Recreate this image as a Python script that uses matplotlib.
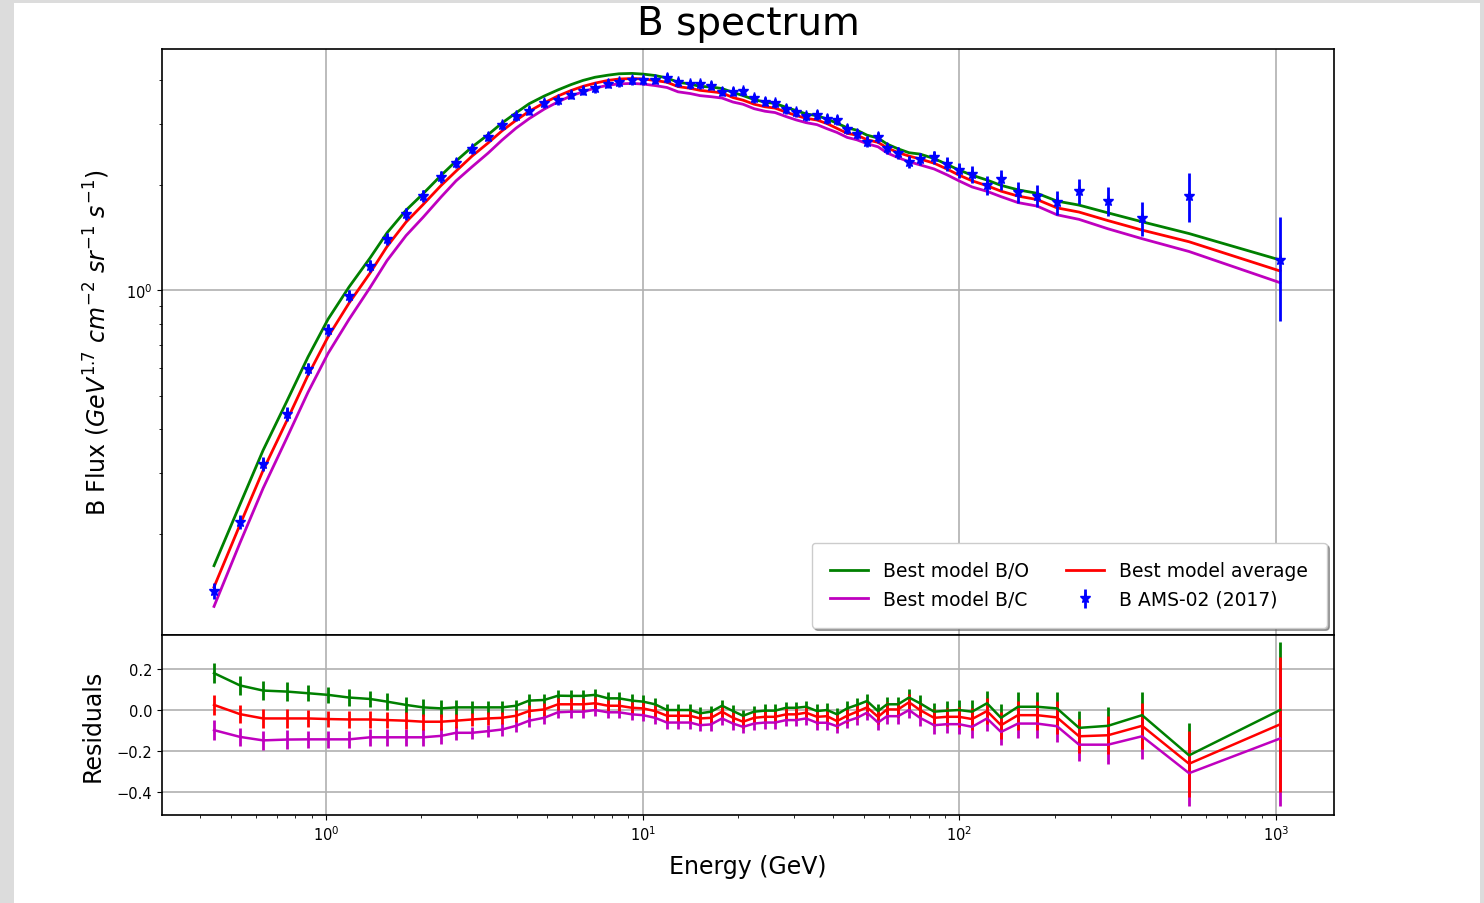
import matplotlib
matplotlib.use("Agg")
import matplotlib.pyplot as plt
from matplotlib.patches import Rectangle
import numpy as np

# kinetic energy per nucleon (GeV)
energy = [0.443, 0.535, 0.633, 0.753, 0.877, 1.015, 1.182, 1.377, 1.558, 1.789,
          2.025, 2.307, 2.574, 2.891, 3.248, 3.595, 3.981, 4.375, 4.880, 5.403,
          5.938, 6.479, 7.070, 7.771, 8.420, 9.252, 10.02, 10.94, 11.93, 12.93,
          14.11, 15.17, 16.43, 17.80, 19.28, 20.74, 22.46, 24.33, 26.17, 28.35,
          30.49, 32.79, 35.51, 38.19, 41.07, 44.18, 47.50, 51.08, 55.34, 59.08,
          64.00, 69.33, 75.08, 83.15, 91.37, 99.7, 109.6, 122.2, 135.3, 153.1,
          175.8, 203.3, 238.6, 294.5, 377.3, 530.9, 1028.7]

# AMS-02 B flux x E^1.7
flux = [0.1379, 0.2176, 0.3183, 0.4426, 0.5957, 0.7705, 0.9643, 1.1754, 1.4047, 1.6565,
        1.869, 2.119, 2.319, 2.544, 2.759, 2.980, 3.162, 3.276, 3.437, 3.511,
        3.639, 3.741, 3.802, 3.917, 3.953, 4.004, 4.005, 4.018, 4.064, 3.950,
        3.906, 3.906, 3.862, 3.712, 3.712, 3.722, 3.554, 3.475, 3.445, 3.313,
        3.241, 3.156, 3.184, 3.100, 3.080, 2.903, 2.808, 2.669, 2.748, 2.556,
        2.477, 2.339, 2.381, 2.408, 2.304, 2.214, 2.157, 2.006, 2.080, 1.912,
        1.869, 1.789, 1.924, 1.808, 1.614, 1.869, 1.223]

# relative errors of the data
rel_err = [0.05, 0.045, 0.045, 0.045, 0.04, 0.04, 0.04, 0.04, 0.04, 0.04,
           0.04, 0.04, 0.035, 0.03, 0.03, 0.03, 0.03, 0.03, 0.03, 0.03,
           0.03, 0.03, 0.03, 0.03, 0.03, 0.03, 0.03, 0.03, 0.03, 0.03,
           0.03, 0.03, 0.03, 0.03, 0.03, 0.03, 0.03, 0.03, 0.03, 0.03,
           0.03, 0.03, 0.033, 0.033, 0.033, 0.035, 0.035, 0.035, 0.035, 0.038,
           0.038, 0.04, 0.041, 0.041, 0.045, 0.05, 0.055, 0.062, 0.065, 0.07,
           0.07, 0.079, 0.082, 0.093, 0.111, 0.16, 0.33]

# residuals (model - data) / data
res_BO = [0.180, 0.120, 0.095, 0.090, 0.082, 0.074, 0.061, 0.054, 0.041, 0.025,
          0.013, 0.008, 0.013, 0.013, 0.013, 0.013, 0.021, 0.046, 0.049, 0.070,
          0.069, 0.069, 0.074, 0.057, 0.057, 0.046, 0.041, 0.028, 0.000, 0.000,
          0.000, -0.016, -0.008, 0.021, -0.005, -0.028, -0.008, -0.003, -0.003, 0.011,
          0.011, 0.016, -0.005, 0.000, -0.021, 0.008, 0.025, 0.044, -0.005, 0.028,
          0.028, 0.061, 0.033, -0.008, -0.003, 0.000, -0.008, 0.033, -0.038, 0.016,
          0.016, 0.008, -0.087, -0.077, -0.025, -0.221, 0.000]
res_avg = [0.025, -0.020, -0.041, -0.041, -0.041, -0.044, -0.046, -0.046, -0.049, -0.052,
           -0.057, -0.057, -0.052, -0.046, -0.041, -0.038, -0.028, -0.005, 0.003, 0.028,
           0.028, 0.028, 0.033, 0.021, 0.021, 0.011, 0.008, -0.005, -0.028, -0.028,
           -0.028, -0.041, -0.038, -0.008, -0.038, -0.057, -0.038, -0.033, -0.033, -0.021,
           -0.021, -0.013, -0.033, -0.030, -0.054, -0.028, -0.008, 0.013, -0.033, 0.003,
           0.003, 0.038, 0.000, -0.038, -0.033, -0.033, -0.044, -0.005, -0.074, -0.025,
           -0.025, -0.036, -0.128, -0.123, -0.077, -0.262, -0.070]
res_BC = [-0.098, -0.131, -0.148, -0.144, -0.143, -0.143, -0.143, -0.133, -0.133, -0.133,
          -0.133, -0.126, -0.111, -0.111, -0.103, -0.095, -0.077, -0.052, -0.038, -0.011,
          -0.008, -0.008, 0.000, -0.011, -0.011, -0.021, -0.025, -0.038, -0.061, -0.061,
          -0.061, -0.074, -0.070, -0.041, -0.066, -0.082, -0.066, -0.061, -0.061, -0.049,
          -0.049, -0.041, -0.062, -0.062, -0.079, -0.054, -0.038, -0.013, -0.061, -0.030,
          -0.030, 0.000, -0.038, -0.074, -0.069, -0.069, -0.082, -0.041, -0.107, -0.066,
          -0.066, -0.079, -0.169, -0.169, -0.128, -0.308, -0.139]

E = np.array(energy)
F = np.array(flux)
rel = np.array(rel_err)
flux_err = F * rel
model_BO = F * (1 + np.array(res_BO))
model_BC = F * (1 + np.array(res_BC))
model_avg = F * (1 + np.array(res_avg))

plt.rcParams['axes.linewidth'] = 1.2
plt.rcParams['xtick.labelsize'] = 10.5
plt.rcParams['ytick.labelsize'] = 10.5

fig = plt.figure(figsize=(14.84, 9.04), dpi=100, facecolor='#dcdcdc')
bg = Rectangle((14 / 1484, 0), (1480 - 14) / 1484, 900 / 904,
               transform=fig.transFigure, facecolor='white',
               edgecolor='none', zorder=-10)
fig.patches.append(bg)

x0 = 162 / 1484
w = (1334 - 162) / 1484
ax = fig.add_axes([x0, 1 - 636 / 904, w, (636 - 50) / 904])
axr = fig.add_axes([x0, 1 - 816 / 904, w, (816 - 636) / 904], sharex=ax)

ax.plot(E, model_BO, color='green', lw=2, label='Best model B/O')
ax.plot(E, model_BC, color='m', lw=2, label='Best model B/C')
ax.plot(E, model_avg, color='red', lw=2, label='Best model average')
ax.errorbar(E, F, yerr=flux_err, fmt='*', color='blue', ms=8, elinewidth=2,
            label='B AMS-02 (2017)')
ax.set_xscale('log')
ax.set_yscale('log')
ax.set_xlim(0.3035, 1523)
ax.set_ylim(0.103, 4.92)
ax.grid(True, which='major', lw=1.2)
ax.tick_params(labelbottom=False)
ax.set_ylabel(r'B Flux ($GeV^{1.7}$ $cm^{-2}$ $sr^{-1}$ $s^{-1}$)', fontsize=17)
ax.yaxis.set_label_coords(-0.043, 0.5)
ax.set_title('B spectrum', fontsize=28, pad=11)
ax.legend(loc='lower right', ncol=2, fontsize=13.5, shadow=True, framealpha=1,
          borderpad=1.0, borderaxespad=0.4)

axr.errorbar(E, res_BO, yerr=rel, color='green', lw=1.8, elinewidth=2)
axr.errorbar(E, res_BC, yerr=rel, color='m', lw=1.8, elinewidth=2)
axr.errorbar(E, res_avg, yerr=rel, color='red', lw=1.8, elinewidth=2)
axr.set_ylim(-0.512, 0.366)
axr.set_yticks([-0.4, -0.2, 0.0, 0.2])
axr.grid(True, which='major', lw=1.2)
axr.set_ylabel('Residuals', fontsize=17)
axr.yaxis.set_label_coords(-0.049, 0.5)
axr.set_xlabel('Energy (GeV)', fontsize=17)
axr.xaxis.set_label_coords(0.5, -0.215)

fig.savefig('out.png', dpi=100, facecolor=fig.get_facecolor())
